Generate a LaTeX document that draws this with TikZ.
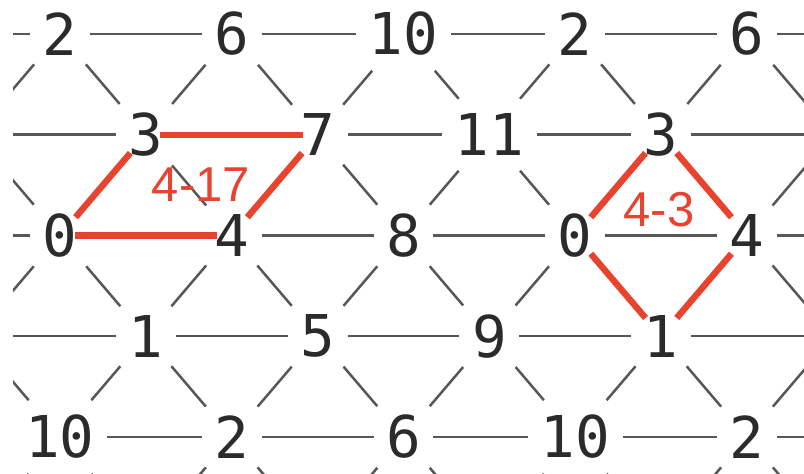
\documentclass[tikz,border=0pt]{standalone}
\usepackage{fontspec}
\usepackage{xcolor}
\newfontfamily\gridfont{DejaVu Sans Mono}
\newfontfamily\markfont{Liberation Sans}
\definecolor{ink}{HTML}{2B2B2B}
\definecolor{wiregray}{HTML}{575757}
\definecolor{accentred}{HTML}{E8432E}
\tikzset{
  num/.style={text=ink,font=\gridfont\fontsize{28.8}{30}\selectfont,
              inner xsep=6.3pt,inner ysep=4.5pt,outer sep=0pt},
  wnum/.style={num,inner ysep=7.5pt},
  wire/.style={draw=wiregray,line width=1.25pt},
  redline/.style={draw=accentred,line width=3.2pt,
                  shorten <=#1,shorten >=#1},
  tag/.style={text=accentred,font=\markfont\fontsize{24.5}{26}\selectfont,
              inner sep=0pt}
}

\begin{document}
\begin{tikzpicture}[x=0.5pt,y=-0.5pt]
        \useasboundingbox (0,0) rectangle (804,474);
        \clip (13,0) rectangle (804,474);
        % lattice, rows a..e
        \node[num]  (a1) at (60,34) {2};
        \node[num]  (a2) at (231.75,34) {6};
        \node[wnum] (a3) at (403.5,34) {10};
        \node[num]  (a4) at (575.25,34) {2};
        \node[num]  (a5) at (747,34) {6};
        \node[num]  (b1) at (145.875,134.75) {3};
        \node[num]  (b2) at (317.625,134.75) {7};
        \node[wnum] (b3) at (489.375,134.75) {11};
        \node[num]  (b4) at (661.125,134.75) {3};
        \node[num]  (c1) at (60,235.5) {0};
        \node[num]  (c2) at (231.75,235.5) {4};
        \node[num]  (c3) at (403.5,235.5) {8};
        \node[num]  (c4) at (575.25,235.5) {0};
        \node[num]  (c5) at (747,235.5) {4};
        \node[num]  (d1) at (145.875,336.25) {1};
        \node[num]  (d2) at (317.625,336.25) {5};
        \node[num]  (d3) at (489.375,336.25) {9};
        \node[num]  (d4) at (661.125,336.25) {1};
        \node[wnum] (e1) at (60,437) {10};
        \node[num]  (e2) at (231.75,437) {2};
        \node[num]  (e3) at (403.5,437) {6};
        \node[wnum] (e4) at (575.25,437) {10};
        \node[num]  (e5) at (747,437) {2};
        % free ends outside the frame
        \foreach \r/\y in {a/34,c/235.5,e/437} {
          \coordinate (\r0) at (-111.75,\y);
          \coordinate (\r6) at (918.75,\y);
        }
        \foreach \r/\y in {b/134.75,d/336.25,f/537.75} {
          \coordinate (\r0) at (-25.875,\y);
          \coordinate (\r5) at (832.875,\y);
        }
        \foreach \i/\x in {1/145.875,2/317.625,3/489.375,4/661.125}
          \coordinate (f\i) at (\x,537.75);
        % rows
        \foreach \r/\last in {a/5,b/4,c/5,d/4,e/5}
          \foreach \j [count=\i] in {0,...,\last}
            \draw[wire] (\r\j) -- (\r\i);
        % diagonals
        \foreach \up/\lo in {a/b,c/b,c/d,e/d,e/f}
          \foreach \j [count=\i] in {0,...,4} {
            \draw[wire] (\up\i) -- (\lo\j);
            \draw[wire] (\up\i) -- (\lo\i);
          }
        % 4-17
        \draw[redline=7.25pt] (b1.center) -- (b2.center);
        \draw[redline=7.25pt] (c1.center) -- (c2.center);
        \draw[redline=12pt] (c1.center) -- (b1.center);
        \draw[redline=12pt] (b2.center) -- (c2.center);
        \node[tag] (t417) at (201,184.5) {4-17};
        % 4-3
        \draw[redline=12pt] (c4.center) -- (b4.center);
        \draw[redline=12pt] (b4.center) -- (c5.center);
        \draw[redline=12pt] (c5.center) -- (d4.center);
        \draw[redline=12pt] (d4.center) -- (c4.center);
        \node[tag] (t43) at (659,209.5) {4-3};
\end{tikzpicture}
\end{document}
